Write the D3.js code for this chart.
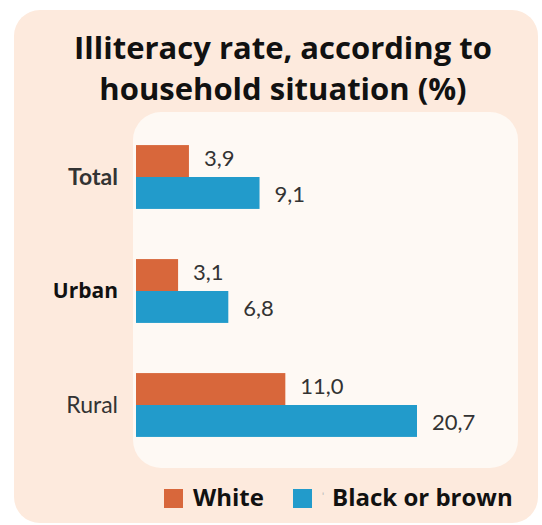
<!DOCTYPE html>
<html>
<head>
<meta charset="utf-8">
<script src="https://cdn.jsdelivr.net/npm/d3@7"></script>
<style>
  body { margin: 0; background: #fff; }
  svg { display: block; }
</style>
</head>
<body>
<div id="chart"></div>
<script>
const categories = ["Total", "Urban", "Rural"];
const series = ["White", "Black or brown"];
const white = [3.9, 3.1, 11.0];
const blackOrBrown = [9.1, 6.8, 20.7];
const titleLines = ["Illiteracy rate, according to", "household situation (%)"];

const width = 542, height = 525;
const colors = ["#d8673b", "#229bcb"];

const svg = d3.select("#chart")
  .append("svg")
  .attr("width", width)
  .attr("height", height);

// outer peach card
svg.append("rect")
  .attr("x", 14).attr("y", 10)
  .attr("width", 524).attr("height", 513)
  .attr("rx", 26)
  .attr("fill", "#fdeadd");

// inner light panel
svg.append("rect")
  .attr("x", 133).attr("y", 112)
  .attr("width", 385).attr("height", 356)
  .attr("rx", 28)
  .attr("fill", "#fef9f4");

svg.append("g")
  .selectAll("text")
  .data(titleLines)
  .join("text")
  .attr("x", 283)
  .attr("y", (d, i) => 59 + i * 41)
  .attr("text-anchor", "middle")
  .style("font-family", "'Open Sans', sans-serif")
  .style("font-weight", 700)
  .style("font-size", "31px")
  .style("fill", "#111")
  .text(d => d);

const data = categories.map((c, i) => ({ cat: c, values: [white[i], blackOrBrown[i]] }));

const y = d3.scaleBand()
  .domain(categories)
  .range([120, 462])
  .paddingInner(0.44)
  .paddingOuter(0.22);

const ySub = d3.scaleBand()
  .domain(series)
  .range([0, y.bandwidth()]);

const x = d3.scaleLinear()
  .domain([0, 20.7])
  .range([136, 417]);

const fmt = v => v.toFixed(1).replace(".", ",");

const groups = svg.append("g")
  .selectAll("g")
  .data(data)
  .join("g")
  .attr("transform", d => `translate(0,${y(d.cat)})`);

groups.selectAll("rect")
  .data(d => d.values.map((v, j) => ({ key: series[j], v, j })))
  .join("rect")
  .attr("x", x(0))
  .attr("y", d => ySub(d.key))
  .attr("width", d => x(d.v) - x(0))
  .attr("height", ySub.bandwidth())
  .attr("fill", d => colors[d.j]);

groups.selectAll("text.val")
  .data(d => d.values.map((v, j) => ({ key: series[j], v, j })))
  .join("text")
  .attr("class", "val")
  .attr("x", d => x(d.v) + 15)
  .attr("y", d => ySub(d.key) + ySub.bandwidth() / 2 + (d.j == 0 ? -3 : 1))
  .attr("dy", "0.35em")
  .style("font-family", "Lato, sans-serif")
  .style("font-size", "22px")
  .style("fill", "#333")
  .text(d => fmt(d.v));

// category labels (styles differ in the original)
const catStyle = {
  Total: { weight: 700, fill: "#333", family: "Lato, sans-serif" },
  Urban: { weight: 700, fill: "#111", family: "'Open Sans', sans-serif" },
  Rural: { weight: 400, fill: "#333", family: "Lato, sans-serif" }
};

svg.append("g")
  .selectAll("text")
  .data(categories)
  .join("text")
  .attr("x", 118)
  .attr("y", d => y(d) + y.bandwidth() / 2)
  .attr("dy", "0.35em")
  .attr("text-anchor", "end")
  .style("font-family", d => catStyle[d].family)
  .style("font-weight", d => catStyle[d].weight)
  .style("font-size", d => d == "Urban" ? "21px" : "23px")
  .style("fill", d => catStyle[d].fill)
  .text(d => d);

// legend
const legendX = [164, 293];
const legend = svg.append("g")
  .selectAll("g")
  .data(series)
  .join("g")
  .attr("transform", (d, i) => `translate(${legendX[i]},489)`);

legend.append("rect")
  .attr("width", 19).attr("height", 19)
  .attr("fill", (d, i) => colors[i]);

legend.append("text")
  .attr("x", (d, i) => i == 0 ? 29 : 39)
  .attr("y", 17)
  .style("font-family", "'Open Sans', sans-serif")
  .style("font-weight", 700)
  .style("font-size", "24px")
  .style("fill", "#111")
  .text(d => d);

svg.append("text")
  .attr("x", 322).attr("y", 500)
  .style("font-family", "'Open Sans', sans-serif")
  .style("font-size", "11px")
  .style("fill", "#bbb")
  .text("ʹ");
</script>
</body>
</html>
